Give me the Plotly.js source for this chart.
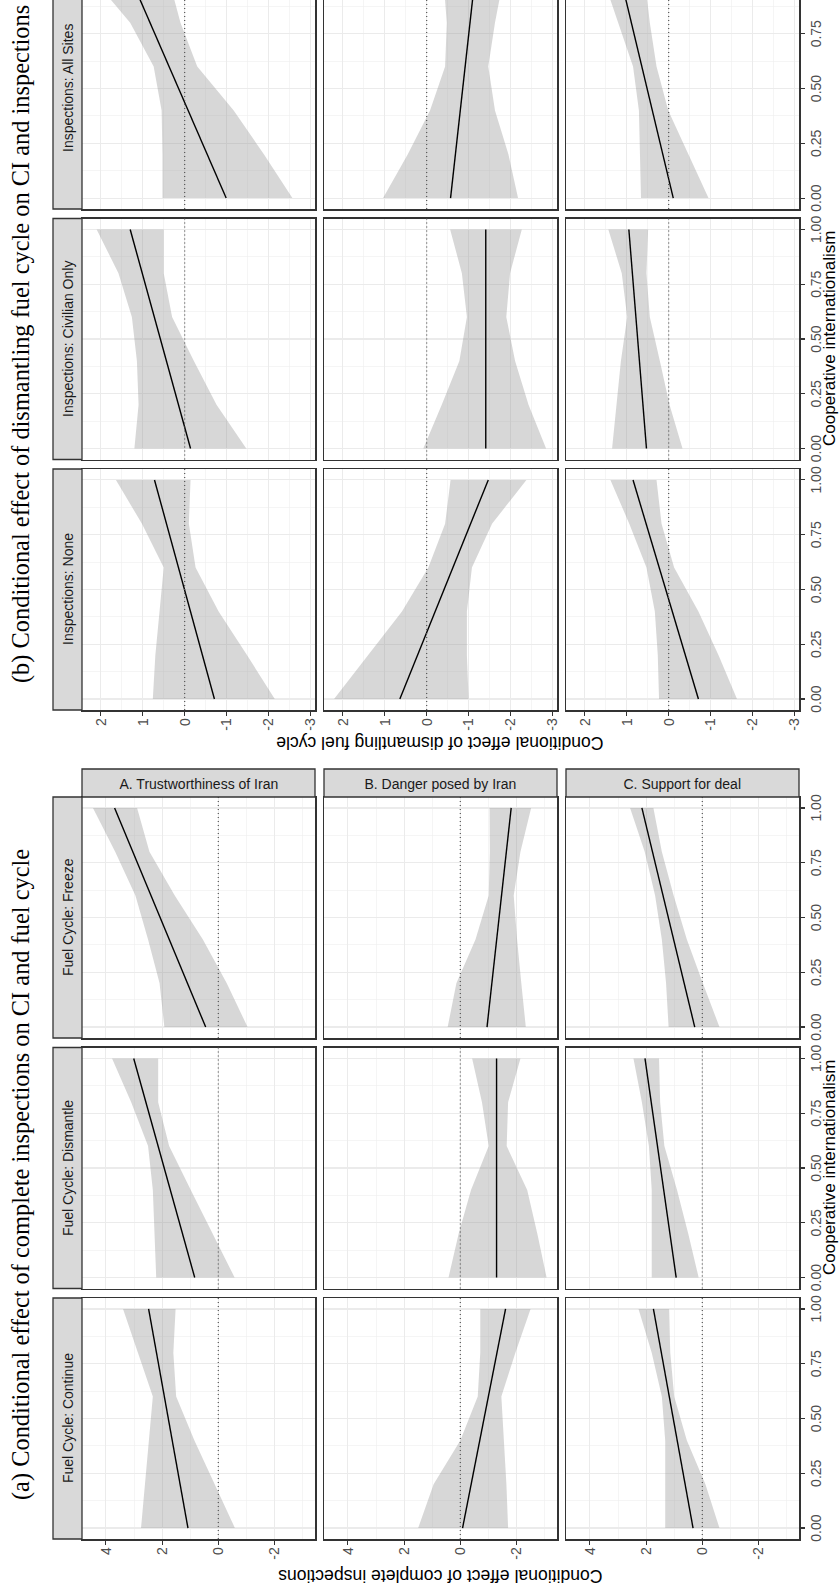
<!DOCTYPE html>
<html><head><meta charset="utf-8">
<script src="https://cdn.plot.ly/plotly-3.0.1.min.js"></script>
<style>
html,body{margin:0;padding:0;background:#fff;overflow:hidden;width:840px;height:1591px;}
#wrap{position:absolute;left:0;top:1591px;width:1591px;height:840px;transform-origin:0 0;transform:rotate(-90deg);}
#chart{width:1591px;height:840px;}
</style></head><body><div id="wrap"><div id="chart"></div></div>
<script>
// ---------------- DATA ----------------
const ciX = [0, 0.2, 0.4, 0.6, 0.8, 1];   // cooperative internationalism grid for CI bands
const fitX = [0, 1];                      // fitted line endpoints
const xTicks = [0, 0.25, 0.5, 0.75, 1];
const xTickText = ['0.00', '0.25', '0.50', '0.75', '1.00'];
const yTicksA = [-2, 0, 2, 4];
const yTicksB = [-3, -2, -1, 0, 1, 2];

const titleA = '(a) Conditional effect of complete inspections on CI and fuel cycle';
const titleB = '(b) Conditional effect of dismantling fuel cycle on CI and inspections';
const colLabelsA = ['Fuel Cycle: Continue', 'Fuel Cycle: Dismantle', 'Fuel Cycle: Freeze'];
const colLabelsB = ['Inspections: None', 'Inspections: Civilian Only', 'Inspections: All Sites'];
const rowLabels = ['A. Trustworthiness of Iran', 'B. Danger posed by Iran', 'C. Support for deal'];
const xTitle = 'Cooperative internationalism';
const yTitleA = 'Conditional effect of complete inspections';
const yTitleB = 'Conditional effect of dismantling fuel cycle';

// Panel (a): columns = Continue, Dismantle, Freeze
const aTrustFit = [[1.08, 2.48], [0.84, 3.01], [0.45, 3.69]];
const aTrustHi  = [[2.75, 2.61, 2.47, 2.33, 2.86, 3.39], [2.21, 2.26, 2.33, 2.5, 3.1, 3.78], [1.92, 2.09, 2.5, 2.95, 3.67, 4.46]];
const aTrustLo  = [[-0.59, 0.13, 0.85, 1.5, 1.6, 1.52], [-0.58, 0.2, 0.98, 1.75, 2.14, 2.14], [-1.04, -0.3, 0.55, 1.55, 2.45, 2.89]];

const aDangerFit = [[-0.08, -1.61], [-1.29, -1.29], [-0.95, -1.81]];
const aDangerHi  = [[1.5, 0.95, 0.0, -0.62, -0.71, -0.71], [0.42, 0.06, -0.38, -1.01, -0.77, -0.42], [0.45, 0.14, -0.54, -1.01, -1.05, -1.04]];
const aDangerLo  = [[-1.7, -1.64, -1.55, -1.46, -1.96, -2.5], [-3.07, -2.74, -2.38, -1.65, -1.7, -2.14], [-2.33, -2.17, -2.02, -1.9, -2.14, -2.52]];

const aSupportFit = [[0.33, 1.74], [0.93, 2.04], [0.27, 2.15]];
const aSupportHi  = [[1.32, 1.32, 1.32, 1.44, 1.8, 2.27], [1.8, 1.8, 1.8, 1.9, 2.15, 2.45], [1.2, 1.29, 1.44, 1.68, 2.05, 2.57]];
const aSupportLo  = [[-0.61, -0.11, 0.55, 1.0, 1.14, 1.18], [0.13, 0.5, 0.9, 1.35, 1.5, 1.54], [-0.61, -0.02, 0.55, 1.02, 1.44, 1.74]];

// Panel (b): columns = None, Civilian Only, All Sites
const bTrustFit = [[-0.71, 0.72], [-0.14, 1.3], [-0.99, 1.28]];
const bTrustHi  = [[0.76, 0.7, 0.6, 0.5, 1.02, 1.64], [1.2, 1.1, 1.14, 1.26, 1.58, 2.1], [0.53, 0.53, 0.55, 0.74, 1.3, 2.18]];
const bTrustLo  = [[-2.15, -1.49, -0.81, -0.26, -0.1, -0.14], [-1.47, -0.76, -0.22, 0.3, 0.5, 0.5], [-2.57, -1.89, -1.17, -0.3, 0.1, 0.38]];

const bDangerFit = [[0.64, -1.47], [-1.41, -1.41], [-0.57, -1.15]];
const bDangerHi  = [[2.21, 1.4, 0.59, -0.04, -0.44, -0.57], [0.08, -0.36, -0.78, -0.96, -0.84, -0.56], [1.04, 0.45, -0.08, -0.44, -0.48, -0.4]];
const bDangerLo  = [[-1.0, -0.96, -0.96, -1.08, -1.56, -2.38], [-2.85, -2.43, -2.11, -1.9, -1.99, -2.27], [-2.18, -1.95, -1.63, -1.47, -1.63, -1.83]];

const bSupportFit = [[-0.71, 0.85], [0.53, 0.95], [-0.11, 1.14]];
const bSupportHi  = [[0.23, 0.26, 0.33, 0.53, 0.94, 1.39], [1.35, 1.24, 1.14, 0.99, 1.12, 1.44], [0.66, 0.68, 0.71, 0.85, 1.2, 1.56]];
const bSupportLo  = [[-1.63, -1.19, -0.71, -0.13, 0.17, 0.29], [-0.33, -0.02, 0.21, 0.45, 0.53, 0.49], [-0.95, -0.47, 0.01, 0.29, 0.45, 0.57]];

// ---------------- LAYOUT (landscape figure, rotated by CSS) ----------------
const W = 1591, H = 840;
const fx = v => v / W;
const fy = v => 1 - v / H;
const panelCols = [
  [[52, 293], [302.5, 543.5], [553, 794]],
  [[881, 1122], [1131.5, 1372.5], [1382, 1591]]   // last column is cropped by the figure edge
];
const pxPerUnit = 241 / 1.1;
const rowStripX = 794;
const rowsY = [[82, 315], [324, 557], [566, 799]];
const colStripY = [53, 82];

const fits = [[aTrustFit, aDangerFit, aSupportFit], [bTrustFit, bDangerFit, bSupportFit]];
const his  = [[aTrustHi, aDangerHi, aSupportHi], [bTrustHi, bDangerHi, bSupportHi]];
const los  = [[aTrustLo, aDangerLo, aSupportLo], [bTrustLo, bDangerLo, bSupportLo]];
const colLabels = [colLabelsA, colLabelsB];

const sans = 'Liberation Sans, Arial, sans-serif';
const serif = 'Liberation Serif, Times New Roman, serif';
const tickFont = {family: sans, size: 14, color: '#4D4D4D'};

const data = [];
const layout = {
  width: W, height: H,
  margin: {l: 0, r: 0, t: 0, b: 0, pad: 0},
  paper_bgcolor: '#ffffff', plot_bgcolor: '#ffffff',
  showlegend: false,
  shapes: [], annotations: []
};

function hyph(v) { return String(v).replace('\u2212', '-'); }

for (let p = 0; p < 2; p++) {
  for (let r = 0; r < 3; r++) {
    for (let c = 0; c < 3; c++) {
      const k = p * 9 + r * 3 + c + 1;
      const xid = k === 1 ? 'x' : 'x' + k;
      const yid = k === 1 ? 'y' : 'y' + k;
      const xname = k === 1 ? 'xaxis' : 'xaxis' + k;
      const yname = k === 1 ? 'yaxis' : 'yaxis' + k;
      const cx = panelCols[p][c];
      const ry = rowsY[r];
      const cropped = (p === 1 && c === 2);
      const xmax = -0.05 + (cx[1] - cx[0]) / pxPerUnit;
      const yT = p === 0 ? yTicksA : yTicksB;
      const yMinor = p === 0 ? [-3, -1, 1, 3] : [-2.5, -1.5, -0.5, 0.5, 1.5];
      layout[xname] = {
        domain: [fx(cx[0]), fx(cx[1])], anchor: yid, range: [-0.05, xmax],
        tickmode: 'array', tickvals: xTicks, ticktext: xTickText,
        showticklabels: r === 2, ticks: r === 2 ? 'outside' : '', ticklen: 4, tickwidth: 1.1, tickcolor: '#333333',
        tickfont: tickFont,
        showgrid: true, gridcolor: '#EBEBEB', gridwidth: 1.1,
        minor: {tickmode: 'array', tickvals: [0.125, 0.375, 0.625, 0.875], showgrid: true, gridcolor: '#EFEFEF', gridwidth: 0.6, ticks: ''},
        zeroline: false, showline: true, linecolor: '#333333', linewidth: 1.5, mirror: true, fixedrange: true
      };
      layout[yname] = {
        domain: [fy(ry[1]), fy(ry[0])], anchor: xid, range: p === 0 ? [-3.44, 4.85] : [-3.11, 2.45],
        tickmode: 'array', tickvals: yT, ticktext: yT.map(v => hyph(v)),
        showticklabels: c === 0, ticks: c === 0 ? 'outside' : '', ticklen: 4, tickwidth: 1.1, tickcolor: '#333333',
        tickfont: tickFont,
        showgrid: true, gridcolor: '#EBEBEB', gridwidth: 1.1,
        minor: {tickmode: 'array', tickvals: yMinor, showgrid: true, gridcolor: '#EFEFEF', gridwidth: 0.6, ticks: ''},
        zeroline: false, showline: true, linecolor: '#333333', linewidth: 1.5, mirror: !cropped, fixedrange: true
      };
      const hi = his[p][r][c], lo = los[p][r][c], fit = fits[p][r][c];
      data.push({
        type: 'scatter', mode: 'lines', xaxis: xid, yaxis: yid,
        x: ciX.concat(ciX.slice().reverse()),
        y: hi.concat(lo.slice().reverse()),
        fill: 'toself', fillcolor: 'rgba(150,150,150,0.38)', line: {width: 0, color: 'rgba(0,0,0,0)'},
        hoverinfo: 'skip'
      });
      data.push({
        type: 'scatter', mode: 'lines', xaxis: xid, yaxis: yid,
        x: fitX, y: fit, line: {color: '#000000', width: 1.4}, hoverinfo: 'skip'
      });
      layout.shapes.push({
        type: 'line', xref: xid + ' domain', yref: yid, x0: 0, x1: 1, y0: 0, y1: 0,
        line: {color: '#555555', width: 1.2, dash: '1px,3px'}, layer: 'above'
      });
    }
    // row strips (only panel (a); panel (b)'s strips lie beyond the cropped edge)
    if (p === 0) {
      layout.shapes.push({
        type: 'rect', xref: 'paper', yref: 'paper',
        x0: fx(rowStripX), x1: fx(rowStripX + 28), y0: fy(rowsY[r][1]), y1: fy(rowsY[r][0]),
        fillcolor: '#D9D9D9', line: {color: '#333333', width: 1.3}, layer: 'above'
      });
      layout.annotations.push({
        xref: 'paper', yref: 'paper', x: fx(rowStripX + 14), y: fy((rowsY[r][0] + rowsY[r][1]) / 2),
        text: rowLabels[r], textangle: 90, showarrow: false, xanchor: 'center', yanchor: 'middle',
        font: {family: sans, size: 14, color: '#1A1A1A'}
      });
    }
  }
  // column strips
  for (let c = 0; c < 3; c++) {
    const cx = panelCols[p][c];
    const full = (p === 1 && c === 2) ? [cx[0], cx[0] + 241] : cx;
    layout.shapes.push({
      type: 'rect', xref: 'paper', yref: 'paper',
      x0: fx(full[0]), x1: fx(full[1]), y0: fy(colStripY[1]), y1: fy(colStripY[0]),
      fillcolor: '#D9D9D9', line: {color: '#333333', width: 1.3}, layer: 'above'
    });
    layout.annotations.push({
      xref: 'paper', yref: 'paper', x: fx((full[0] + full[1]) / 2), y: fy((colStripY[0] + colStripY[1]) / 2),
      text: colLabels[p][c], showarrow: false, xanchor: 'center', yanchor: 'middle',
      font: {family: sans, size: 14, color: '#1A1A1A'}
    });
  }
}

// axis titles
layout.annotations.push({
  xref: 'paper', yref: 'paper', x: fx(423), y: 0, text: xTitle, showarrow: false, borderpad: 0,
  xanchor: 'center', yanchor: 'bottom', font: {family: sans, size: 17, color: '#000000'}
});
layout.annotations.push({
  xref: 'paper', yref: 'paper', x: fx(1252), y: 0, text: xTitle, showarrow: false, borderpad: 0,
  xanchor: 'center', yanchor: 'bottom', font: {family: sans, size: 17, color: '#000000'}
});
layout.annotations.push({
  xref: 'paper', yref: 'paper', x: fx(15), y: fy(440.5), text: yTitleA, textangle: -90, showarrow: false,
  xanchor: 'center', yanchor: 'middle', font: {family: sans, size: 17.6, color: '#000000'}
});
layout.annotations.push({
  xref: 'paper', yref: 'paper', x: fx(848), y: fy(440.5), text: yTitleB, textangle: -90, showarrow: false,
  xanchor: 'center', yanchor: 'middle', font: {family: sans, size: 17.6, color: '#000000'}
});
// panel captions
layout.annotations.push({
  xref: 'paper', yref: 'paper', x: fx(417), y: fy(21), text: titleA, showarrow: false,
  xanchor: 'center', yanchor: 'middle', font: {family: serif, size: 24.4, color: '#000000'}
});
layout.annotations.push({
  xref: 'paper', yref: 'paper', x: fx(1247), y: fy(21), text: titleB, showarrow: false,
  xanchor: 'center', yanchor: 'middle', font: {family: serif, size: 24.4, color: '#000000'}
});

Plotly.newPlot('chart', data, layout, {displayModeBar: false, staticPlot: true});
</script></body></html>
